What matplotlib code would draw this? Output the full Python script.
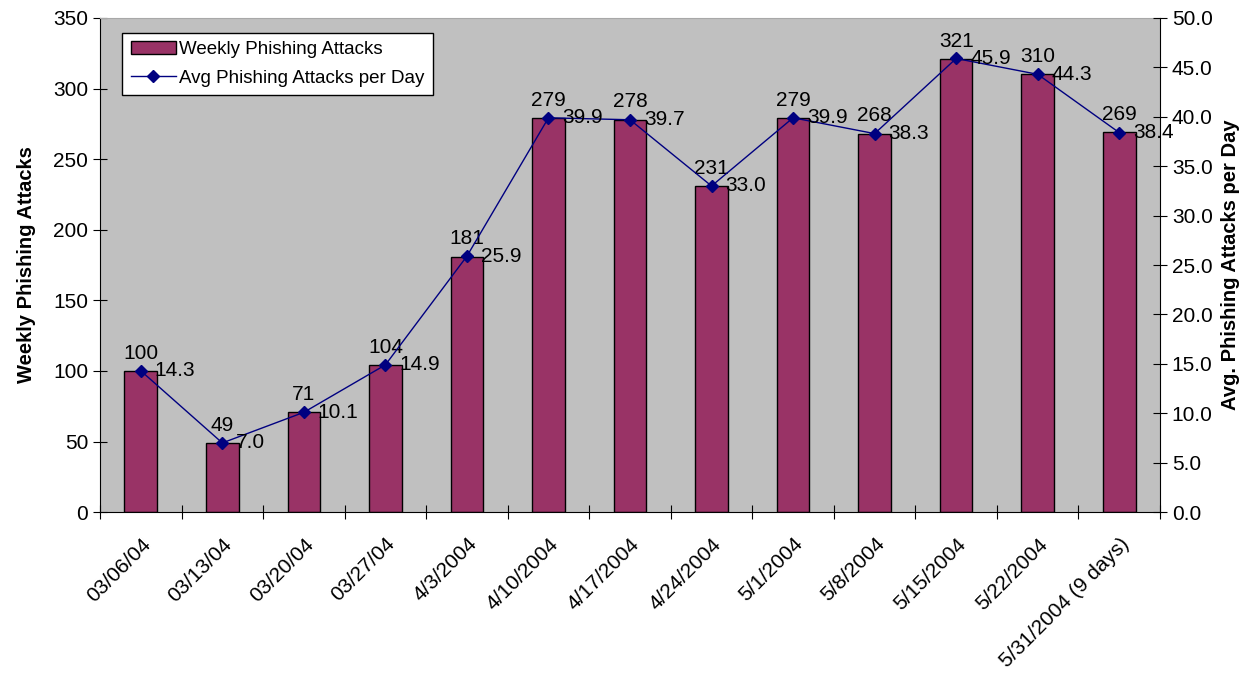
import numpy as np
import matplotlib.pyplot as plt

plt.rcParams['font.family'] = ['Liberation Sans', 'DejaVu Sans']

# data
weeks = ['03/06/04', '03/13/04', '03/20/04', '03/27/04', '4/3/2004', '4/10/2004',
         '4/17/2004', '4/24/2004', '5/1/2004', '5/8/2004', '5/15/2004', '5/22/2004',
         '5/31/2004 (9 days)']
weekly_attacks = [100, 49, 71, 104, 181, 279, 278, 231, 279, 268, 321, 310, 269]
avg_per_day = [14.3, 7.0, 10.1, 14.9, 25.9, 39.9, 39.7, 33.0, 39.9, 38.3, 45.9, 44.3, 38.4]

x = np.arange(len(weeks))

fig = plt.figure(figsize=(12.55, 6.81), dpi=100)
ax = fig.add_axes([0.0797, 0.248, 0.8446, 0.7256])
ax.set_facecolor('#C0C0C0')

bars = ax.bar(x, weekly_attacks, width=0.4, color='#993366', edgecolor='black',
              linewidth=1, label='Weekly Phishing Attacks', zorder=2)
ax.set_xlim(-0.5, len(weeks) - 0.5)
ax.set_ylim(0, 350)
ax.set_yticks(range(0, 351, 50))
ax.tick_params(axis='y', direction='inout', length=10, labelsize=15)

# x ticks at category boundaries, labels at centres
ax.set_xticks(np.arange(-0.5, len(weeks), 1))
ax.set_xticklabels([])
ax.set_xticks(x, minor=True)
ax.set_xticklabels(weeks, minor=True, rotation=45, ha='right', rotation_mode='anchor',
                   fontsize=15)
ax.tick_params(axis='x', which='major', direction='inout', length=10)
ax.tick_params(axis='x', which='minor', length=0, pad=16)

ax.set_ylabel('Weekly Phishing Attacks', fontsize=14.5, fontweight='bold', labelpad=12)

for spine in ['left', 'bottom']:
    ax.spines[spine].set_color('black')
ax.spines['top'].set_color('#A8A8A8')
ax.spines['right'].set_visible(False)

for xi, v in zip(x, weekly_attacks):
    ax.annotate(str(v), (xi, v), xytext=(0, 6), textcoords='offset points',
                ha='center', va='bottom', fontsize=15, zorder=5)

ax2 = ax.twinx()
line, = ax2.plot(x, avg_per_day, color='#000080', marker='D', markersize=6,
                 linewidth=1, label='Avg Phishing Attacks per Day', zorder=3)
ax2.set_ylim(0, 50)
ax2.set_yticks(np.arange(0, 50.1, 5))
ax2.set_yticklabels([f'{t:.1f}' for t in np.arange(0, 50.1, 5)])
ax2.tick_params(axis='y', direction='inout', length=10, labelsize=15)
ax2.spines['right'].set_color('black')
ax2.spines['top'].set_visible(False)
ax2.spines['left'].set_visible(False)
ax2.spines['bottom'].set_visible(False)
ax2.set_ylabel('Avg. Phishing Attacks per Day', fontsize=14.5, fontweight='bold', labelpad=6)

for xi, v in zip(x, avg_per_day):
    ax2.annotate(f'{v:.1f}', (xi, v), xytext=(10, 0), textcoords='offset points',
                 ha='left', va='center', fontsize=15, zorder=5)

leg = ax.legend([bars, line], ['Weekly Phishing Attacks', 'Avg Phishing Attacks per Day'],
                loc='upper left', bbox_to_anchor=(0.021, 0.97), borderaxespad=0,
                fontsize=13.5, frameon=True, fancybox=False, edgecolor='black',
                framealpha=1, handlelength=2.4, handletextpad=0.2,
                borderpad=0.45, labelspacing=0.6)
leg.get_frame().set_linewidth(1)
leg.set_zorder(10)

fig.savefig('out.png', dpi=100)
